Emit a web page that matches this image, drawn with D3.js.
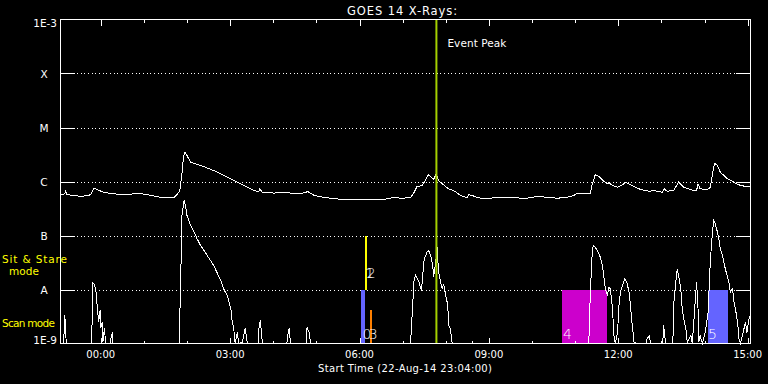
<!DOCTYPE html>
<html>
<head>
<meta charset="utf-8">
<script src="https://cdn.jsdelivr.net/npm/d3@7"></script>
<style>
  body { margin: 0; background: #000; }
  svg { display: block; }
  text { font-family: "DejaVu Sans", sans-serif; fill: #fff; }
</style>
</head>
<body>
<script>
// times are minutes after the start time (22-Aug-14 23:04:00 UTC), flux in W/m^2
const longMin = [0, 6, 7, 9, 19, 28, 39, 43, 46, 51,
  60, 74, 93, 107, 121, 139, 158, 162, 166, 169,
  171, 173, 176, 181, 195, 213, 232, 250, 269, 276,
  277, 281, 297, 315, 325, 334, 344, 353, 366, 376,
  394, 417, 436, 452, 464, 473, 487, 492, 496, 503,
  508, 512, 516, 519, 523, 526, 531, 540, 547, 557,
  566, 568, 573, 580, 594, 608, 626, 649, 663, 677,
  691, 705, 714, 719, 726, 737, 740, 744, 749, 756,
  761, 763, 768, 775, 782, 786, 793, 807, 819, 826,
  837, 840, 844, 853, 860, 867, 881, 885, 887, 890,
  900, 904, 908, 910, 914, 918, 928, 937, 942, 951,
  960]
const longFlux = [5.7e-7, 5.9e-7, 6.6e-7, 5.7e-7, 5.5e-7, 5.3e-7, 5.5e-7, 5.9e-7, 7.5e-7, 7.1e-7,
  6.3e-7, 5.9e-7, 5.7e-7, 6.1e-7, 5.7e-7, 5.1e-7, 5.1e-7, 5.7e-7, 6.8e-7, 1.39e-6,
  2.82e-6, 3.49e-6, 3.03e-6, 2.28e-6, 1.98e-6, 1.60e-6, 1.20e-6, 9.1e-7, 6.8e-7, 6.5e-7,
  7.3e-7, 6.3e-7, 6.1e-7, 6.3e-7, 5.9e-7, 5.9e-7, 6.5e-7, 5.5e-7, 5.1e-7, 4.9e-7,
  4.6e-7, 4.6e-7, 4.6e-7, 4.7e-7, 5.1e-7, 4.9e-7, 5.0e-7, 6.3e-7, 8.1e-7, 8.4e-7,
  1.07e-6, 1.35e-6, 1.20e-6, 1.09e-6, 1.39e-6, 1.04e-6, 9.1e-7, 7.3e-7, 6.8e-7, 5.5e-7,
  5.0e-7, 5.7e-7, 5.5e-7, 5.0e-7, 4.8e-7, 5.1e-7, 5.0e-7, 4.9e-7, 5.3e-7, 5.1e-7,
  4.9e-7, 5.1e-7, 5.5e-7, 6.1e-7, 5.9e-7, 5.9e-7, 9.1e-7, 1.33e-6, 1.24e-6, 1.01e-6,
  9.1e-7, 9.5e-7, 8.4e-7, 7.8e-7, 8.7e-7, 9.7e-7, 8.7e-7, 7.1e-7, 6.6e-7, 6.8e-7,
  6.3e-7, 7.3e-7, 6.6e-7, 6.8e-7, 9.7e-7, 7.8e-7, 6.8e-7, 6.8e-7, 9.1e-7, 7.3e-7,
  7.1e-7, 7.8e-7, 1.60e-6, 2.18e-6, 1.98e-6, 1.49e-6, 1.12e-6, 9.7e-7, 8.8e-7, 8.2e-7,
  8.2e-7]

// 8e-10 = below the bottom of the plot
const shortMin = [0, 4, 5, 6, 7, 8, 43, 44, 45, 46,
  49, 51, 53, 55, 56, 58, 59, 61, 63, 69,
  70, 72, 73, 165, 167, 169, 172, 174, 176, 181,
  186, 190, 195, 204, 213, 223, 227, 232, 237, 239,
  241, 243, 246, 248, 253, 257, 260, 275, 276, 278,
  281, 315, 316, 318, 320, 342, 343, 346, 348, 487,
  492, 494, 499, 502, 503, 506, 510, 512, 515, 518,
  519, 522, 524, 526, 529, 531, 533, 536, 538, 539,
  540, 542, 543, 545, 572, 573, 574, 735, 737, 740,
  742, 747, 751, 754, 758, 761, 763, 765, 768, 770,
  772, 775, 777, 779, 782, 785, 788, 791, 793, 795,
  798, 802, 815, 816, 819, 821, 838, 839, 842, 852,
  853, 856, 858, 860, 863, 865, 867, 870, 872, 877,
  879, 883, 885, 887, 888, 890, 893, 897, 901, 904,
  907, 909, 911, 914, 916, 918, 921, 923, 925, 930,
  932, 935, 937, 939, 942, 944, 946, 951, 953, 955,
  958, 960]
const shortFlux = [8e-10, 8e-10, 1.6e-9, 3.4e-9, 1.9e-9, 8e-10, 8e-10, 2.5e-9, 1.33e-8, 1.31e-8,
  1.03e-8, 5.1e-9, 2.5e-9, 4.1e-9, 1.9e-9, 2.5e-9, 1.06e-9, 1.9e-9, 8e-10, 8e-10,
  1.2e-9, 1.6e-9, 8e-10, 8e-10, 1.03e-8, 2.35e-7, 4.45e-7, 3.6e-7, 2.35e-7, 1.53e-7,
  1.15e-7, 8.7e-8, 6.5e-8, 4.3e-8, 2.8e-8, 1.47e-8, 1.03e-8, 7.7e-9, 4.4e-9, 2.5e-9,
  1.9e-9, 8e-10, 1.6e-9, 8e-10, 1.06e-9, 1.9e-9, 8e-10, 8e-10, 1.9e-9, 2.7e-9,
  8e-10, 8e-10, 1.4e-9, 1.9e-9, 8e-10, 8e-10, 2.0e-9, 1.6e-9, 8e-10, 8e-10,
  1.58e-8, 1.82e-8, 1.36e-8, 9.6e-9, 1.28e-8, 3.7e-8, 4.9e-8, 5.3e-8, 4.3e-8, 2.8e-8,
  1.69e-8, 3.2e-8, 6.1e-8, 2.1e-8, 1.36e-8, 1.03e-8, 1.28e-8, 7.7e-9, 5.8e-9, 4.4e-9,
  2.2e-9, 1.9e-9, 1.6e-9, 8e-10, 8e-10, 1.06e-9, 8e-10, 8e-10, 7.7e-9, 5.7e-8,
  6.5e-8, 5.3e-8, 4.0e-8, 2.8e-8, 1.03e-8, 7.7e-9, 1.1e-8, 1.03e-8, 4.4e-9, 1.4e-9,
  8e-10, 1.6e-9, 5.1e-9, 8.9e-9, 1.19e-8, 1.58e-8, 1.36e-8, 8.9e-9, 5.1e-9, 2.5e-9,
  1.06e-9, 8e-10, 8e-10, 1.2e-9, 1.4e-9, 8e-10, 8e-10, 2.2e-9, 8e-10, 8e-10,
  5.1e-9, 1.36e-8, 2.4e-8, 1.82e-8, 1.03e-8, 4.4e-9, 2.9e-9, 1.9e-9, 1.06e-9, 1.4e-9,
  8e-10, 5.8e-9, 1.36e-8, 4.4e-9, 1.06e-9, 1.4e-9, 8e-10, 1.6e-9, 3.8e-9, 3.2e-8,
  1.15e-7, 1.9e-7, 1.65e-7, 1.15e-7, 8.7e-8, 5.7e-8, 4.3e-8, 3.2e-8, 2.4e-8, 1.36e-8,
  8.9e-9, 1.03e-8, 5.8e-9, 4.4e-9, 2.5e-9, 1.2e-9, 8e-10, 1.9e-9, 2.5e-9, 1.6e-9,
  2.9e-9, 3.3e-9]

// observation windows
const barStart = [418, 423, 430, 698, 901, 901]
const barEnd = [424, 426, 434, 761, 929, 928]
const barLow = [1e-9, 1e-8, 1e-9, 1e-9, 1e-9, 1e-9]
const barHigh = [1e-8, 1e-7, 4.1e-9, 1e-8, 4.1e-9, 1e-8]
const barColors = ["#6464ff", "#ffff00", "#ff8000", "#cc00cc", "#6464ff", "#6464ff"]

const eventText = ["0", "1", "2", "3", "4", "5"]
const eventMin = [420, 424, 426, 429, 699, 901]
const eventFlux = [1.2e-9, 1.63e-8, 1.63e-8, 1.2e-9, 1.2e-9, 1.2e-9]

const peakMin = 523

const levelFlux = [1e-3, 1e-4, 1e-5, 1e-6, 1e-7, 1e-8, 1e-9]
const levelLabels = ["1E-3", "X", "M", "C", "B", "A", "1E-9"]

const width = 768
const height = 384
const start = new Date(Date.UTC(2014, 7, 22, 23, 4))
const at = m => new Date(+start + m * 60000)

const x = d3.scaleUtc()
    .domain([start, at(960)])
    .range([60.5, 750.5])
const y = d3.scaleLog()
    .domain([1e-9, 1e-3])
    .range([343.5, 19.5])
    .clamp(true)

const svg = d3.select("body")
    .append("svg")
    .attr("width", width)
    .attr("height", height)

svg.append("rect")
    .attr("width", width)
    .attr("height", height)
    .attr("fill", "#000")

const inner = levelFlux.slice(1, -1)

// dotted grid
svg.append("g")
    .selectAll("line")
    .data(inner)
    .join("line")
    .attr("x1", 77)
    .attr("x2", 736)
    .attr("y1", d => Math.round(y(d)) + 0.5)
    .attr("y2", d => Math.round(y(d)) + 0.5)
    .attr("stroke", "#fff")
    .attr("stroke-dasharray", "1,2.67")
    .attr("shape-rendering", "crispEdges")

// bars
svg.append("g")
    .selectAll("rect")
    .data(barStart)
    .join("rect")
    .attr("x", (d, i) => x(at(d)))
    .attr("width", (d, i) => x(at(barEnd[i])) - x(at(d)))
    .attr("y", (d, i) => y(barHigh[i]))
    .attr("height", (d, i) => y(barLow[i]) - y(barHigh[i]))
    .attr("fill", (d, i) => barColors[i])
    .attr("shape-rendering", "crispEdges")

const line = d3.line()
    .x(d => x(at(d[0])))
    .y(d => y(d[1]))

svg.append("path")
    .datum(longMin.map((m, i) => [m, longFlux[i]]))
    .attr("d", line)
    .attr("fill", "none")
    .attr("stroke", "#fff")
    .attr("shape-rendering", "crispEdges")

svg.append("path")
    .datum(shortMin.map((m, i) => [m, shortFlux[i]]))
    .attr("d", line)
    .attr("fill", "none")
    .attr("stroke", "#fff")
    .attr("shape-rendering", "crispEdges")

// event numbers
svg.append("g")
    .selectAll("text")
    .data(eventText)
    .join("text")
    .attr("x", (d, i) => x(at(eventMin[i])))
    .attr("y", (d, i) => y(eventFlux[i]))
    .attr("font-size", 14)
    .attr("font-weight", 200)
    .text(d => d)

// event peak
svg.append("line")
    .attr("x1", x(at(peakMin)))
    .attr("x2", x(at(peakMin)))
    .attr("y1", y(1e-3))
    .attr("y2", y(1e-9))
    .attr("stroke", "#a4d000")
    .attr("stroke-width", 2)

svg.append("text")
    .attr("x", x(at(peakMin)) + 11)
    .attr("y", 47)
    .attr("font-size", 10.5)
    .attr("textLength", 59)
    .text("Event Peak")

// frame
svg.append("rect")
    .attr("x", x.range()[0])
    .attr("y", y.range()[1])
    .attr("width", x.range()[1] - x.range()[0])
    .attr("height", y.range()[0] - y.range()[1])
    .attr("fill", "none")
    .attr("stroke", "#fff")
    .attr("shape-rendering", "crispEdges")

// y ticks, both sides
const yt = svg.append("g")
    .attr("stroke", "#fff")
    .attr("shape-rendering", "crispEdges")
yt.selectAll(".l")
    .data(inner)
    .join("line")
    .attr("class", "l")
    .attr("x1", 60).attr("x2", 75)
    .attr("y1", d => Math.round(y(d)) + 0.5)
    .attr("y2", d => Math.round(y(d)) + 0.5)
yt.selectAll(".r")
    .data(inner)
    .join("line")
    .attr("class", "r")
    .attr("x1", 736).attr("x2", 751)
    .attr("y1", d => Math.round(y(d)) + 0.5)
    .attr("y2", d => Math.round(y(d)) + 0.5)

svg.append("g")
    .selectAll("text")
    .data(levelFlux)
    .join("text")
    .attr("x", (d, i) => (i === 0 || i === 6) ? 57 : 44)
    .attr("y", (d, i) => i === 0 ? y(d) + 7.5 : i === 6 ? y(d) : y(d) + 4)
    .attr("text-anchor", (d, i) => (i === 0 || i === 6) ? "end" : "middle")
    .attr("font-size", 10.5)
    .text((d, i) => levelLabels[i])

// time ticks, top and bottom
const hours = d3.utcHour.range(start, at(961))
const tl = d => d.getUTCHours() % 3 === 0 ? 6 : 3
const xt = svg.append("g")
    .attr("stroke", "#fff")
    .attr("shape-rendering", "crispEdges")
xt.selectAll(".t")
    .data(hours)
    .join("line")
    .attr("class", "t")
    .attr("x1", d => Math.round(x(d)) + 0.5)
    .attr("x2", d => Math.round(x(d)) + 0.5)
    .attr("y1", y.range()[1])
    .attr("y2", d => y.range()[1] + tl(d))
xt.selectAll(".b")
    .data(hours)
    .join("line")
    .attr("class", "b")
    .attr("x1", d => Math.round(x(d)) + 0.5)
    .attr("x2", d => Math.round(x(d)) + 0.5)
    .attr("y1", y.range()[0])
    .attr("y2", d => y.range()[0] - tl(d))

svg.append("g")
    .selectAll("text")
    .data(hours.filter(d => d.getUTCHours() % 3 === 0))
    .join("text")
    .attr("x", d => x(d))
    .attr("y", 358)
    .attr("text-anchor", "middle")
    .attr("font-size", 10)
    .text(d3.utcFormat("%H:%M"))

svg.append("text")
    .attr("x", 405)
    .attr("y", 372)
    .attr("text-anchor", "middle")
    .attr("font-size", 10)
    .attr("textLength", 174)
    .text("Start Time (22-Aug-14 23:04:00)")

svg.append("text")
    .attr("x", 402)
    .attr("y", 15)
    .attr("text-anchor", "middle")
    .attr("font-size", 11.5)
    .attr("textLength", 110)
    .text("GOES 14 X-Rays:")

// mode labels
const modes = svg.append("g")
    .attr("font-size", 10.5)
modes.append("text").attr("x", 2).attr("y", 263).attr("textLength", 65)
    .style("fill", "#ffff00").text("Sit & Stare")
modes.append("text").attr("x", 24).attr("y", 275).attr("text-anchor", "middle")
    .style("fill", "#ffff00").text("mode")
modes.append("text").attr("x", 2).attr("y", 327).attr("textLength", 53)
    .style("fill", "#ffff00").text("Scan mode")
</script>
</body>
</html>
